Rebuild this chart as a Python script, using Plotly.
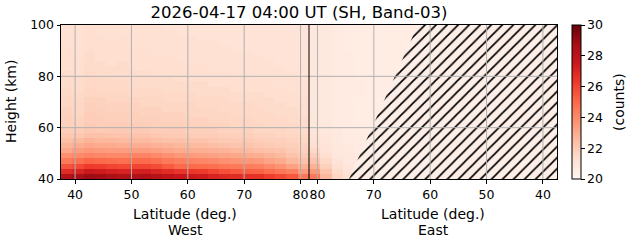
import plotly.graph_objects as go

# ---------------- data ----------------
lat_edge_max = 81.5          # latitude where West and East panels meet
lat_edge_min = 37.5
heights = [41, 43, 45, 47, 49, 51, 53, 55, 57, 59, 61, 63, 65, 67, 69,
           71, 73, 75, 77, 79, 81, 83, 85, 87, 89, 91, 93, 95, 97, 99]
west_lats = [38.5, 40.5, 42.5, 44.5, 46.5, 48.5, 50.5, 52.5, 54.5, 56.5, 58.5,
             60.5, 62.5, 64.5, 66.5, 68.5, 70.5, 72.5, 74.5, 76.5, 78.5, 80.5]
east_lats = [80.5, 78.5, 76.5, 74.5, 72.5, 70.5, 68.5, 66.5, 64.5, 62.5, 60.5,
             58.5, 56.5, 54.5, 52.5, 50.5, 48.5, 46.5, 44.5, 42.5, 40.5, 38.5]

west_counts = [
    [28.3, 28.6, 28.9, 28.8, 28.6, 28.4, 28.4, 28.5, 28.2, 27.9, 27.6, 27.5, 27.4, 27.1, 26.9, 26.8, 26.6, 26.6, 26.2, 25.9, 25.5, 24.6],
    [26.8, 27.1, 27.5, 27.4, 27.2, 27.1, 27.2, 27.3, 27.0, 26.8, 26.5, 26.4, 26.3, 26.0, 25.7, 25.5, 25.3, 25.2, 24.9, 24.6, 24.3, 23.5],
    [25.6, 25.9, 26.3, 26.2, 26.0, 25.9, 26.0, 26.0, 25.8, 25.4, 25.0, 25.0, 24.9, 24.8, 24.6, 24.5, 24.4, 24.3, 24.0, 23.7, 23.3, 22.8],
    [24.5, 24.8, 25.1, 25.0, 24.9, 24.8, 25.0, 25.0, 24.8, 24.5, 24.3, 24.2, 24.1, 24.0, 23.8, 23.7, 23.6, 23.5, 23.2, 23.0, 22.6, 22.3],
    [23.8, 24.0, 24.2, 24.1, 24.0, 24.0, 24.2, 24.2, 24.0, 23.8, 23.6, 23.5, 23.4, 23.3, 23.2, 23.1, 23.0, 22.9, 22.7, 22.5, 22.2, 22.0],
    [23.1, 23.4, 23.6, 23.5, 23.4, 23.4, 23.4, 23.4, 23.3, 23.1, 23.0, 22.9, 22.9, 22.8, 22.7, 22.6, 22.5, 22.4, 22.3, 22.2, 22.0, 21.8],
    [22.7, 22.9, 23.1, 23.0, 23.0, 22.9, 22.9, 22.9, 22.8, 22.7, 22.6, 22.5, 22.5, 22.4, 22.3, 22.2, 22.2, 22.1, 22.0, 21.9, 21.8, 21.7],
    [22.4, 22.5, 22.7, 22.6, 22.6, 22.5, 22.5, 22.5, 22.4, 22.3, 22.3, 22.2, 22.2, 22.1, 22.0, 22.0, 22.0, 21.9, 21.8, 21.8, 21.7, 21.6],
    [22.1, 22.1, 22.3, 22.3, 22.2, 22.2, 22.2, 22.2, 22.1, 22.0, 22.0, 21.9, 21.9, 21.9, 21.8, 21.8, 21.8, 21.7, 21.7, 21.6, 21.6, 21.5],
    [21.9, 21.9, 22.1, 22.0, 22.0, 22.0, 22.0, 22.0, 21.9, 21.9, 21.9, 21.8, 21.8, 21.8, 21.7, 21.7, 21.7, 21.6, 21.6, 21.6, 21.5, 21.4],
    [21.8, 21.7, 22.0, 21.9, 21.9, 21.9, 21.9, 21.9, 21.8, 21.8, 21.8, 21.7, 21.7, 21.7, 21.7, 21.6, 21.6, 21.6, 21.5, 21.5, 21.5, 21.4],
    [21.8, 21.7, 21.9, 21.9, 21.8, 21.8, 21.8, 21.8, 21.8, 21.7, 21.7, 21.7, 21.7, 21.6, 21.6, 21.6, 21.6, 21.5, 21.5, 21.5, 21.4, 21.4],
    [21.7, 21.6, 21.9, 21.8, 21.8, 21.8, 21.8, 21.7, 21.7, 21.7, 21.7, 21.6, 21.6, 21.6, 21.6, 21.5, 21.5, 21.5, 21.5, 21.4, 21.4, 21.3],
    [21.7, 21.6, 21.8, 21.8, 21.7, 21.7, 21.7, 21.7, 21.7, 21.6, 21.6, 21.6, 21.6, 21.6, 21.5, 21.5, 21.5, 21.5, 21.4, 21.4, 21.4, 21.3],
    [21.6, 21.6, 21.8, 21.7, 21.7, 21.7, 21.7, 21.6, 21.6, 21.6, 21.6, 21.6, 21.5, 21.5, 21.5, 21.5, 21.5, 21.4, 21.4, 21.4, 21.3, 21.3],
    [21.6, 21.5, 21.7, 21.7, 21.6, 21.6, 21.6, 21.6, 21.6, 21.5, 21.5, 21.5, 21.5, 21.5, 21.5, 21.4, 21.4, 21.4, 21.4, 21.3, 21.3, 21.3],
    [21.5, 21.5, 21.6, 21.6, 21.6, 21.6, 21.5, 21.5, 21.5, 21.5, 21.5, 21.5, 21.4, 21.4, 21.4, 21.4, 21.4, 21.4, 21.3, 21.3, 21.3, 21.2],
    [21.5, 21.4, 21.6, 21.5, 21.5, 21.5, 21.5, 21.5, 21.5, 21.4, 21.4, 21.4, 21.4, 21.4, 21.4, 21.3, 21.3, 21.3, 21.3, 21.3, 21.2, 21.2],
    [21.4, 21.4, 21.5, 21.5, 21.5, 21.5, 21.4, 21.4, 21.4, 21.4, 21.4, 21.4, 21.4, 21.3, 21.3, 21.3, 21.3, 21.3, 21.3, 21.2, 21.2, 21.2],
    [21.4, 21.4, 21.5, 21.5, 21.4, 21.4, 21.4, 21.4, 21.4, 21.4, 21.3, 21.3, 21.3, 21.3, 21.3, 21.3, 21.3, 21.2, 21.2, 21.2, 21.2, 21.1],
    [21.4, 21.3, 21.5, 21.4, 21.4, 21.4, 21.4, 21.4, 21.3, 21.3, 21.3, 21.3, 21.3, 21.3, 21.3, 21.2, 21.2, 21.2, 21.2, 21.2, 21.2, 21.1],
    [21.3, 21.3, 21.4, 21.4, 21.4, 21.4, 21.3, 21.3, 21.3, 21.3, 21.3, 21.3, 21.3, 21.2, 21.2, 21.2, 21.2, 21.2, 21.2, 21.2, 21.1, 21.1],
    [21.3, 21.3, 21.4, 21.4, 21.3, 21.4, 21.3, 21.3, 21.3, 21.3, 21.3, 21.2, 21.2, 21.2, 21.2, 21.2, 21.2, 21.2, 21.2, 21.1, 21.1, 21.1],
    [21.3, 21.3, 21.4, 21.3, 21.3, 21.3, 21.3, 21.3, 21.3, 21.3, 21.2, 21.2, 21.2, 21.2, 21.2, 21.2, 21.2, 21.2, 21.1, 21.1, 21.1, 21.1],
    [21.3, 21.2, 21.4, 21.3, 21.3, 21.3, 21.3, 21.3, 21.2, 21.2, 21.2, 21.2, 21.2, 21.2, 21.2, 21.2, 21.2, 21.1, 21.1, 21.1, 21.1, 21.1],
    [21.3, 21.2, 21.3, 21.3, 21.3, 21.3, 21.3, 21.2, 21.2, 21.2, 21.2, 21.2, 21.2, 21.2, 21.2, 21.1, 21.1, 21.1, 21.1, 21.1, 21.1, 21.0],
    [21.2, 21.2, 21.3, 21.3, 21.3, 21.3, 21.2, 21.2, 21.2, 21.2, 21.2, 21.2, 21.2, 21.2, 21.1, 21.1, 21.1, 21.1, 21.1, 21.1, 21.1, 21.0],
    [21.2, 21.2, 21.3, 21.3, 21.2, 21.3, 21.2, 21.2, 21.2, 21.2, 21.2, 21.2, 21.1, 21.1, 21.1, 21.1, 21.1, 21.1, 21.1, 21.1, 21.0, 21.0],
    [21.2, 21.2, 21.3, 21.2, 21.2, 21.2, 21.2, 21.2, 21.2, 21.2, 21.1, 21.1, 21.1, 21.1, 21.1, 21.1, 21.1, 21.1, 21.1, 21.0, 21.0, 21.0],
    [21.2, 21.2, 21.3, 21.2, 21.2, 21.2, 21.2, 21.2, 21.2, 21.1, 21.1, 21.1, 21.1, 21.1, 21.1, 21.1, 21.1, 21.1, 21.0, 21.0, 21.0, 21.0],
]

# East panel: valid cells only (from 80.5 deg eastward); the rest is missing data
east_counts = [
    [24.6, 22.6, 21.6, 21.2],
    [23.6, 22.2, 21.4, 21.0],
    [22.8, 21.8, 21.2, 20.9],
    [22.2, 21.5, 21.0, 20.8, 20.7],
    [21.8, 21.3, 20.9, 20.8, 20.7],
    [21.5, 21.1, 20.8, 20.7, 20.6],
    [21.3, 21.0, 20.8, 20.7, 20.6],
    [21.2, 20.9, 20.7, 20.6, 20.6],
    [21.1, 20.9, 20.7, 20.6, 20.6, 20.5],
    [21.0, 20.8, 20.7, 20.6, 20.5, 20.5],
    [20.9, 20.8, 20.6, 20.6, 20.5, 20.5],
    [20.9, 20.7, 20.6, 20.6, 20.5, 20.5],
    [20.9, 20.7, 20.6, 20.6, 20.5, 20.5],
    [20.8, 20.7, 20.6, 20.6, 20.5, 20.5, 20.5],
    [20.8, 20.7, 20.6, 20.6, 20.5, 20.5, 20.5],
    [20.8, 20.7, 20.6, 20.6, 20.5, 20.5, 20.5],
    [20.8, 20.7, 20.6, 20.6, 20.6, 20.5, 20.5],
    [20.8, 20.7, 20.6, 20.6, 20.6, 20.5, 20.5, 20.5],
    [20.8, 20.7, 20.6, 20.6, 20.6, 20.5, 20.5, 20.5],
    [20.8, 20.7, 20.6, 20.6, 20.5, 20.5, 20.5, 20.5],
    [20.8, 20.7, 20.6, 20.6, 20.5, 20.5, 20.5, 20.5],
    [20.8, 20.7, 20.6, 20.6, 20.5, 20.5, 20.5, 20.5],
    [20.8, 20.7, 20.6, 20.6, 20.5, 20.5, 20.5, 20.5, 20.5],
    [20.8, 20.7, 20.6, 20.6, 20.5, 20.5, 20.5, 20.5, 20.5],
    [20.8, 20.7, 20.6, 20.6, 20.5, 20.5, 20.5, 20.5, 20.5],
    [20.8, 20.7, 20.6, 20.5, 20.5, 20.5, 20.5, 20.5, 20.5],
    [20.8, 20.7, 20.6, 20.5, 20.5, 20.5, 20.5, 20.5, 20.5],
    [20.8, 20.7, 20.6, 20.5, 20.5, 20.5, 20.5, 20.5, 20.5, 20.5],
    [20.8, 20.7, 20.6, 20.5, 20.5, 20.5, 20.5, 20.5, 20.5, 20.5],
    [20.8, 20.7, 20.6, 20.5, 20.5, 20.5, 20.5, 20.5, 20.5, 20.5],
]

# edge of the missing-data (hatched) region in the East panel
gap_heights = [40, 100]
gap_east_lats = [74.4, 62.2]

west_ticks = [40, 50, 60, 70, 80]
east_ticks = [80, 70, 60, 50, 40]
height_ticks = [40, 60, 80, 100]
cbar_ticks = [20, 22, 24, 26, 28, 30]
zmin, zmax = 20, 30

title_text = "2026-04-17 04:00 UT (SH, Band-03)"

# ---------------- build ----------------
def east_pos(lat):
    return 2 * lat_edge_max - lat

x_cells = list(west_lats) + [east_pos(v) for v in east_lats]
z = []
for wrow, erow in zip(west_counts, east_counts):
    z.append(list(wrow) + list(erow) + [None] * (len(east_lats) - len(erow)))

reds = [[0.0, "#fff5f0"], [0.125, "#fee0d2"], [0.25, "#fcbba1"], [0.375, "#fc9272"],
        [0.5, "#fb6a4a"], [0.625, "#ef3b2c"], [0.75, "#cb181d"], [0.875, "#a50f15"],
        [1.0, "#67000d"]]

FONT = "DejaVu Sans"
hatch_bg = "#fdeee7"

fig = go.Figure()
fig.add_trace(go.Heatmap(
    x=x_cells, y=heights, z=z, zmin=zmin, zmax=zmax, colorscale=reds,
    showscale=True, hoverongaps=False,
    colorbar=dict(
        x=1.0302, xanchor="left", xpad=0, y=0.5, yanchor="middle", ypad=0,
        len=1, lenmode="fraction", thickness=9, outlinewidth=1, outlinecolor="black",
        tickvals=cbar_ticks, ticks="outside", ticklen=3.5, tickwidth=1, tickcolor="black",
        tickfont=dict(family=FONT, size=12.5, color="black"),
    ),
))

# hatched missing-data region
gx = [east_pos(v) for v in gap_east_lats] + [east_pos(lat_edge_min), east_pos(lat_edge_min)]
gy = list(gap_heights) + [gap_heights[-1], gap_heights[0]]
fig.add_trace(go.Scatter(
    x=gx, y=gy, fill="toself", mode="lines", line=dict(width=0),
    fillcolor=hatch_bg,
    fillpattern=dict(shape="/", size=7.8, solidity=0.22, fgcolor="black", bgcolor=hatch_bg,
                     fillmode="replace"),
    showlegend=False, hoverinfo="skip",
))

xr = [lat_edge_min, east_pos(lat_edge_min)]
yr = [height_ticks[0], height_ticks[-1]]
xtickvals = west_ticks + [east_pos(v) for v in east_ticks]
xticktext = [str(v) for v in west_ticks] + [str(v) for v in east_ticks]

shapes = []
for xv in xtickvals:
    shapes.append(dict(type="line", xref="x", yref="y domain", x0=xv, x1=xv, y0=0, y1=1,
                       line=dict(color="#b0b0b0", width=1), layer="above"))
for yv in height_ticks:
    if yr[0] < yv < yr[1]:
        shapes.append(dict(type="line", xref="x domain", yref="y", x0=0, x1=1, y0=yv, y1=yv,
                           line=dict(color="#b0b0b0", width=1), layer="above"))
shapes.append(dict(type="line", xref="x", yref="y domain", x0=lat_edge_max, x1=lat_edge_max,
                   y0=0, y1=1, line=dict(color="black", width=1), layer="above"))

axis_common = dict(showgrid=False, zeroline=False, showline=True, mirror=True,
                   linecolor="black", linewidth=1, ticks="outside", ticklen=3.5,
                   tickwidth=1, tickcolor="black", tickangle=0,
                   tickfont=dict(family=FONT, size=12.5, color="black"))

center_w = (west_lats[0] + west_lats[-1]) / 2
fig.update_layout(
    width=631, height=243,
    margin=dict(l=61, r=74, t=25, b=64, pad=0),
    paper_bgcolor="white", plot_bgcolor=hatch_bg,
    font=dict(family=FONT, color="black"),
    showlegend=False,
    xaxis=dict(range=xr, tickmode="array", tickvals=xtickvals, ticktext=xticktext, **axis_common),
    yaxis=dict(range=yr, tickmode="array", tickvals=height_ticks, **axis_common),
    shapes=shapes,
    title=dict(text=title_text, x=299 / 631, xref="container", xanchor="center",
               y=1 - 12 / 243, yref="container", yanchor="middle",
               font=dict(family=FONT, size=16.5, color="black")),
    annotations=[
        dict(text="Height (km)", textangle=-90, xref="paper", yref="paper",
             x=(11 - 61) / 496, y=0.5, xanchor="center", yanchor="middle", showarrow=False,
             font=dict(family=FONT, size=14, color="black")),
        dict(text="(counts)", textangle=-90, xref="paper", yref="paper",
             x=(619 - 61) / 496, y=0.5, xanchor="center", yanchor="middle", showarrow=False,
             font=dict(family=FONT, size=14, color="black")),
        dict(text="Latitude (deg.)", xref="x", yref="paper",
             x=center_w, y=(179 - 214) / 154,
             xanchor="center", yanchor="middle", showarrow=False,
             font=dict(family=FONT, size=14, color="black")),
        dict(text="West", xref="x", yref="paper",
             x=center_w, y=(179 - 230) / 154,
             xanchor="center", yanchor="middle", showarrow=False,
             font=dict(family=FONT, size=14, color="black")),
        dict(text="Latitude (deg.)", xref="x", yref="paper",
             x=east_pos(center_w), y=(179 - 214) / 154,
             xanchor="center", yanchor="middle", showarrow=False,
             font=dict(family=FONT, size=14, color="black")),
        dict(text="East", xref="x", yref="paper",
             x=east_pos(center_w), y=(179 - 230) / 154,
             xanchor="center", yanchor="middle", showarrow=False,
             font=dict(family=FONT, size=14, color="black")),
    ],
)

fig.write_html("out.html")
